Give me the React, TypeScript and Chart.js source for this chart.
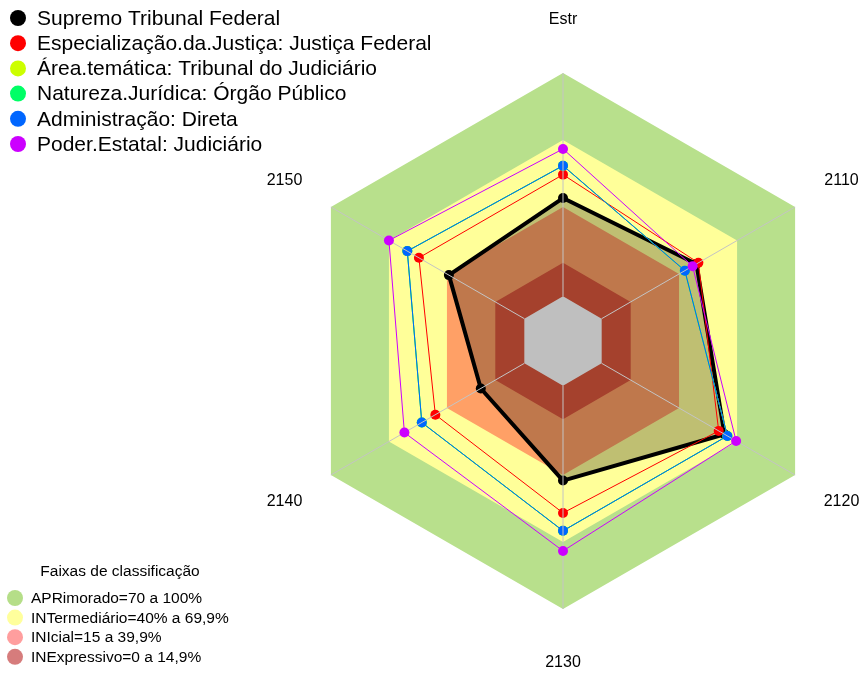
import { useEffect, useRef } from 'react';
import { Chart, registerables } from 'chart.js';

Chart.register(...registerables);

const axisLabels = ['Estr', '2110', '2120', '2130', '2140', '2150'];

const seriesNames = [
  'Supremo Tribunal Federal',
  'Especialização.da.Justiça: Justiça Federal',
  'Área.temática: Tribunal do Judiciário',
  'Natureza.Jurídica: Órgão Público',
  'Administração: Direta',
  'Poder.Estatal: Judiciário',
];
const supremo = [44, 49, 63.5, 42.5, 22.5, 39];
const especializacao = [54.5, 50, 60.5, 57, 46, 54.5];
const areaTematica = [58.5, 43, 65, 65, 53, 60.5];
const natureza = [58.5, 43, 65, 65, 53, 60.5];
const administracao = [58.5, 43, 65, 65, 53, 60.5];
const poder = [66, 47, 69.5, 74, 62, 70];
const seriesValues = [supremo, especializacao, areaTematica, natureza, administracao, poder];
const seriesColors = ['#000000', '#FF0000', '#CCFF00', '#00FF66', '#0066FF', '#CC00FF'];

const bandTitle = 'Faixas de classificação';
const bandNames = [
  'APRimorado=70 a 100%',
  'INTermediário=40% a 69,9%',
  'INIcial=15 a 39,9%',
  'INExpressivo=0 a 14,9%',
];
const bandUpper = [100, 70, 40, 15];
const bandColors = ['#B8E08C', '#FFFF99', '#FFA066', '#DC573C'];
const bandLegendColors = ['#B5DE88', '#FFFF9C', '#FF9E9E', '#D67C7C'];

const scaleMin = -20;
const scaleMax = 100;
const centerValue = 0;

const FONT = '"Liberation Sans", Arial, sans-serif';

export default function App() {
  const ref = useRef<HTMLCanvasElement | null>(null);

  useEffect(() => {
    const canvas = ref.current;
    if (!canvas) return;

    const bandDatasets = bandUpper.map((v, i) => ({
      label: bandNames[i],
      data: axisLabels.map(() => v),
      fill: 'start',
      backgroundColor: bandColors[i],
      borderWidth: 0,
      borderColor: 'rgba(0,0,0,0)',
      pointRadius: 0,
      order: 20 - i,
    }));
    const centerIndex = bandDatasets.length;
    const centerDataset = {
      label: 'centro',
      data: axisLabels.map(() => centerValue),
      fill: 'start',
      backgroundColor: '#FFFFFF',
      borderWidth: 0,
      borderColor: 'rgba(0,0,0,0)',
      pointRadius: 0,
      order: 15,
    };
    const seriesDatasets = seriesValues.map((vals, i) => ({
      label: seriesNames[i],
      data: vals,
      fill: i === 0 ? 'start' : false,
      backgroundColor: i === 0 ? 'rgba(0,0,0,0.25)' : 'rgba(0,0,0,0)',
      borderColor: seriesColors[i],
      borderWidth: i === 0 ? 4 : 1,
      borderJoinStyle: 'round',
      pointRadius: 5,
      pointBackgroundColor: seriesColors[i],
      pointBorderColor: seriesColors[i],
      pointBorderWidth: 0,
      order: 6 - i,
    }));

    const overlay = {
      id: 'overlay',
      afterDatasetDraw(chart: any, args: any) {
        if (args.index !== centerIndex) return;
        const s = chart.scales.r;
        const ctx = chart.ctx;
        ctx.save();
        ctx.strokeStyle = '#C4C4C4';
        ctx.lineWidth = 1;
        for (let i = 0; i < axisLabels.length; i++) {
          const a = s.getPointPositionForValue(i, centerValue);
          const b = s.getPointPositionForValue(i, scaleMax);
          ctx.beginPath();
          ctx.moveTo(a.x, a.y);
          ctx.lineTo(b.x, b.y);
          ctx.stroke();
        }
        ctx.restore();
      },
      afterDraw(chart: any) {
        const s = chart.scales.r;
        const ctx = chart.ctx;
        ctx.save();
        ctx.fillStyle = '#000';
        ctx.textAlign = 'center';
        ctx.textBaseline = 'middle';
        ctx.font = '16px ' + FONT;
        for (let i = 0; i < axisLabels.length; i++) {
          const p = s.getPointPosition(i, s.drawingArea * 1.2);
          ctx.fillText(axisLabels[i], p.x, p.y);
        }
        // top legend
        ctx.textAlign = 'left';
        ctx.font = '21px ' + FONT;
        for (let i = 0; i < seriesNames.length; i++) {
          const y = 18 + i * 25.2;
          ctx.beginPath();
          ctx.arc(18, y, 8, 0, Math.PI * 2);
          ctx.fillStyle = seriesColors[i];
          ctx.fill();
          ctx.fillStyle = '#000';
          ctx.fillText(seriesNames[i], 37, y + 1);
        }
        // bottom legend
        ctx.font = '15.5px ' + FONT;
        ctx.textAlign = 'center';
        ctx.fillText(bandTitle, 120, 572);
        ctx.textAlign = 'left';
        for (let i = 0; i < bandNames.length; i++) {
          const y = 598 + i * 19.6;
          ctx.beginPath();
          ctx.arc(15, y, 8, 0, Math.PI * 2);
          ctx.fillStyle = bandLegendColors[i];
          ctx.fill();
          ctx.fillStyle = '#000';
          ctx.fillText(bandNames[i], 31, y + 1);
        }
        ctx.restore();
      },
    };

    const chart = new Chart(canvas, {
      type: 'radar',
      data: {
        labels: axisLabels,
        datasets: [...seriesDatasets, ...bandDatasets, centerDataset] as any,
      },
      options: {
        responsive: false,
        maintainAspectRatio: false,
        devicePixelRatio: 1,
        animation: false,
        layout: { padding: { left: 295, right: 34, top: 73, bottom: 66 } },
        elements: { line: { tension: 0 } },
        plugins: {
          legend: { display: false },
          tooltip: { enabled: false },
          title: { display: false },
        },
        scales: {
          r: {
            min: scaleMin,
            max: scaleMax,
            ticks: { display: false },
            grid: { display: false },
            angleLines: { display: false },
            pointLabels: { display: false },
          },
        },
      } as any,
      plugins: [overlay],
    });
    return () => chart.destroy();
  }, []);

  return (
    <div style={{ position: 'absolute', left: 0, top: 0, width: 865, height: 675, background: '#fff' }}>
      <canvas ref={ref} width={865} height={675} style={{ width: 865, height: 675, display: 'block' }} />
    </div>
  );
}
